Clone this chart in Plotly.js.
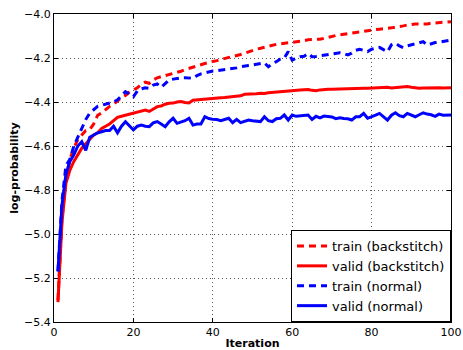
<!DOCTYPE html>
<html>
<head>
<meta charset="utf-8">
<script src="https://cdn.plot.ly/plotly-3.0.1.min.js"></script>
<style>html,body{margin:0;padding:0;background:#fff;}#chart{width:463px;height:350px;}</style>
</head>
<body>
<div id="chart"></div>
<script>
const iterations = Array.from({length: 100}, (_, i) => i + 1);

const trainBackstitch = [
-5.30,-4.93,-4.75,-4.66,-4.61,-4.57,-4.55,-4.53,-4.525,-4.50,
-4.46,-4.45,-4.435,-4.42,-4.41,-4.395,-4.38,-4.37,-4.355,-4.345,
-4.335,-4.32,-4.31,-4.315,-4.30,-4.29,-4.285,-4.28,-4.277,-4.27,
-4.265,-4.26,-4.253,-4.247,-4.24,-4.235,-4.23,-4.225,-4.22,-4.217,
-4.212,-4.207,-4.203,-4.198,-4.194,-4.19,-4.184,-4.178,-4.171,-4.164,
-4.16,-4.156,-4.151,-4.146,-4.141,-4.138,-4.136,-4.134,-4.132,-4.13,
-4.128,-4.126,-4.121,-4.117,-4.115,-4.115,-4.115,-4.11,-4.106,-4.102,
-4.098,-4.095,-4.092,-4.089,-4.086,-4.083,-4.08,-4.078,-4.075,-4.073,
-4.071,-4.069,-4.068,-4.065,-4.063,-4.06,-4.058,-4.054,-4.05,-4.046,
-4.045,-4.046,-4.047,-4.045,-4.042,-4.04,-4.039,-4.038,-4.036,-4.035
];

const validBackstitch = [
-5.31,-4.95,-4.77,-4.71,-4.67,-4.64,-4.61,-4.59,-4.57,-4.55,
-4.54,-4.52,-4.51,-4.50,-4.485,-4.47,-4.465,-4.46,-4.455,-4.45,
-4.448,-4.44,-4.437,-4.443,-4.43,-4.421,-4.418,-4.41,-4.406,-4.405,
-4.40,-4.398,-4.402,-4.404,-4.392,-4.39,-4.389,-4.388,-4.386,-4.383,
-4.383,-4.381,-4.38,-4.378,-4.376,-4.374,-4.372,-4.365,-4.365,-4.363,
-4.362,-4.36,-4.361,-4.358,-4.356,-4.355,-4.354,-4.353,-4.35,-4.346,
-4.345,-4.345,-4.344,-4.343,-4.347,-4.349,-4.345,-4.342,-4.342,-4.342,
-4.341,-4.342,-4.341,-4.34,-4.338,-4.338,-4.338,-4.337,-4.337,-4.336,
-4.337,-4.336,-4.333,-4.333,-4.336,-4.335,-4.333,-4.331,-4.33,-4.333,
-4.336,-4.338,-4.336,-4.335,-4.335,-4.334,-4.335,-4.336,-4.335,-4.335
];

const trainNormal = [
-5.17,-4.85,-4.69,-4.66,-4.60,-4.56,-4.52,-4.48,-4.45,-4.435,
-4.42,-4.415,-4.41,-4.406,-4.40,-4.39,-4.37,-4.353,-4.365,-4.376,
-4.35,-4.34,-4.335,-4.338,-4.323,-4.318,-4.333,-4.315,-4.30,-4.296,
-4.292,-4.29,-4.29,-4.292,-4.292,-4.28,-4.272,-4.268,-4.262,-4.259,
-4.258,-4.256,-4.254,-4.25,-4.247,-4.245,-4.24,-4.236,-4.234,-4.232,
-4.228,-4.226,-4.222,-4.24,-4.225,-4.217,-4.205,-4.2,-4.171,-4.21,
-4.2,-4.194,-4.192,-4.18,-4.194,-4.193,-4.19,-4.186,-4.186,-4.18,
-4.178,-4.176,-4.18,-4.186,-4.178,-4.165,-4.16,-4.165,-4.171,-4.16,
-4.155,-4.152,-4.162,-4.171,-4.14,-4.133,-4.145,-4.153,-4.145,-4.14,
-4.135,-4.128,-4.126,-4.141,-4.135,-4.13,-4.128,-4.125,-4.12,-4.118
];

const validNormal = [
-5.17,-4.87,-4.73,-4.67,-4.64,-4.60,-4.58,-4.62,-4.56,-4.55,
-4.54,-4.535,-4.53,-4.53,-4.51,-4.54,-4.51,-4.49,-4.51,-4.527,
-4.51,-4.505,-4.51,-4.512,-4.495,-4.489,-4.50,-4.512,-4.49,-4.474,
-4.497,-4.49,-4.485,-4.474,-4.505,-4.50,-4.50,-4.467,-4.475,-4.479,
-4.48,-4.485,-4.48,-4.474,-4.494,-4.479,-4.494,-4.488,-4.482,-4.485,
-4.487,-4.489,-4.467,-4.485,-4.489,-4.476,-4.474,-4.459,-4.482,-4.459,
-4.465,-4.464,-4.462,-4.459,-4.479,-4.465,-4.472,-4.464,-4.466,-4.468,
-4.476,-4.472,-4.475,-4.476,-4.482,-4.467,-4.467,-4.452,-4.474,-4.468,
-4.46,-4.452,-4.468,-4.482,-4.46,-4.449,-4.462,-4.467,-4.452,-4.46,
-4.467,-4.458,-4.449,-4.455,-4.458,-4.465,-4.455,-4.46,-4.459,-4.459
];

const seriesNames = ["train (backstitch)", "valid (backstitch)", "train (normal)", "valid (normal)"];
const xTicks = [0, 20, 40, 60, 80, 100];
const yTicks = [-4.0, -4.2, -4.4, -4.6, -4.8, -5.0, -5.2, -5.4];

const RED = "#ff0000", BLUE = "#0000ff";
function tr(y, name, color, dash) {
  return {x: iterations, y: y, name: name, type: "scatter", mode: "lines",
    line: {color: color, width: 3, dash: dash}};
}
const data = [
  tr(trainBackstitch, seriesNames[0], RED, "7px,5px"),
  tr(validBackstitch, seriesNames[1], RED, "solid"),
  tr(trainNormal, seriesNames[2], BLUE, "7px,5px"),
  tr(validNormal, seriesNames[3], BLUE, "solid")
];

const font = {family: "DejaVu Sans, sans-serif", size: 11, color: "#000"};
const axisCommon = {
  showline: true, linecolor: "#000", linewidth: 1, mirror: "ticks",
  ticks: "inside", ticklen: 4, tickcolor: "#000",
  showgrid: true, gridcolor: "#555", griddash: "1px,3px", gridwidth: 1,
  zeroline: false, tickfont: font
};
const layout = {
  width: 463, height: 350,
  margin: {l: 54, r: 12, t: 14, b: 28},
  paper_bgcolor: "#fff", plot_bgcolor: "#fff",
  font: font,
  showlegend: true,
  xaxis: Object.assign({}, axisCommon, {
    range: [0, 100], tickvals: xTicks, ticktext: xTicks.map(String),
    title: {text: "<b>Iteration</b>", font: {family: "DejaVu Sans, sans-serif", size: 11, color: "#000"}, standoff: 2}
  }),
  yaxis: Object.assign({}, axisCommon, {
    range: [-5.4, -4.0], tickvals: yTicks, tickformat: ".1f",
    title: {text: "<b>log-probability</b>", font: {family: "DejaVu Sans, sans-serif", size: 11, color: "#000"}, standoff: 3}
  }),
  legend: {
    x: 1, y: 0, xanchor: "right", yanchor: "bottom",
    bgcolor: "#fff", bordercolor: "#000", borderwidth: 1,
    font: {family: "DejaVu Sans, sans-serif", size: 13, color: "#000"},
    tracegroupgap: 0, itemwidth: 30
  }
};
Plotly.newPlot("chart", data, layout, {displayModeBar: false, staticPlot: true});
</script>
</body>
</html>
